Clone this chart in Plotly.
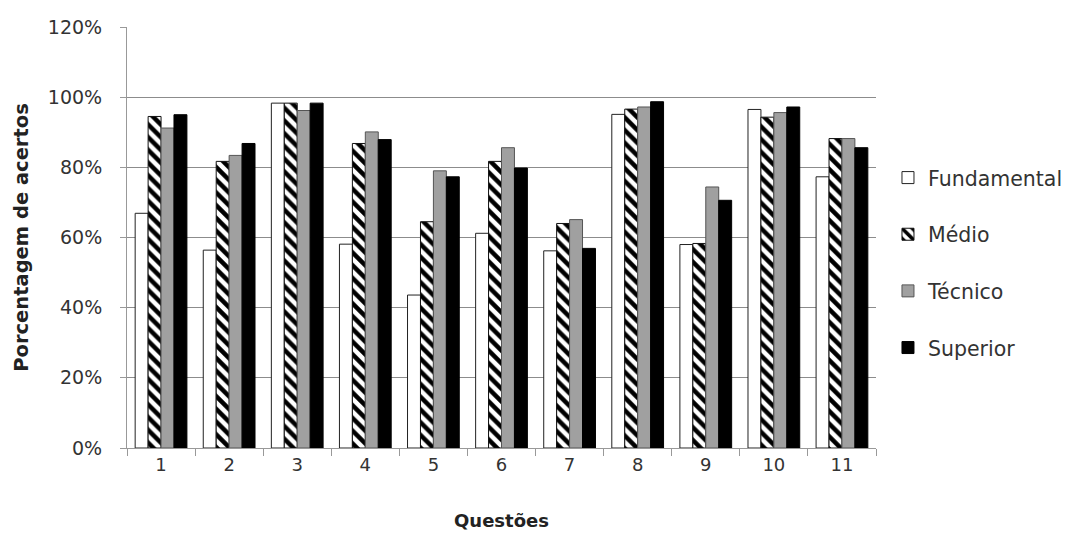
import plotly.graph_objects as go

questoes = ["1", "2", "3", "4", "5", "6", "7", "8", "9", "10", "11"]
fundamental = [0.669, 0.564, 0.983, 0.581, 0.436, 0.612, 0.562, 0.951, 0.580, 0.965, 0.773]
medio = [0.945, 0.817, 0.983, 0.868, 0.645, 0.817, 0.640, 0.966, 0.583, 0.943, 0.882]
tecnico = [0.912, 0.834, 0.962, 0.901, 0.790, 0.856, 0.651, 0.972, 0.744, 0.956, 0.882]
superior = [0.950, 0.868, 0.983, 0.879, 0.773, 0.798, 0.569, 0.987, 0.706, 0.972, 0.856]
y_ticks = [0, 0.2, 0.4, 0.6, 0.8, 1.0, 1.2]

FONT = "DejaVu Sans, sans-serif"

fig = go.Figure()
fig.add_trace(go.Bar(name="Fundamental", x=questoes, y=fundamental, legendgroup="a",
                     marker=dict(color="white", line=dict(color="#222222", width=1))))
fig.add_trace(go.Bar(name="Médio", x=questoes, y=medio, legendgroup="b",
                     marker=dict(color="white", line=dict(color="#111111", width=1),
                                 pattern=dict(shape="\\", fgcolor="black", bgcolor="white",
                                              size=9, solidity=0.5, fillmode="replace"))))
fig.add_trace(go.Bar(name="Técnico", x=questoes, y=tecnico, legendgroup="c",
                     marker=dict(color="#a0a0a0", line=dict(color="#555555", width=1))))
fig.add_trace(go.Bar(name="Superior", x=questoes, y=superior, legendgroup="d",
                     marker=dict(color="black", line=dict(color="black", width=1))))

fig.update_layout(
    width=1063, height=526,
    margin=dict(l=119, r=195, t=19, b=86, autoexpand=False),
    paper_bgcolor="white", plot_bgcolor="white",
    barmode="group", bargap=0.24, bargroupgap=0,
    font=dict(family=FONT, size=17, color="#333333"),
    legend=dict(x=1.016, y=0.44, xanchor="left", yanchor="middle",
                font=dict(family=FONT, size=20.5, color="#333333"),
                tracegroupgap=27, itemwidth=30, traceorder="grouped"),
    xaxis=dict(
        title=dict(text="<b>Questões</b>", font=dict(family=FONT, size=18, color="#222222"), standoff=40),
        showline=True, linecolor="#999999", linewidth=1,
        ticks="outside", tickson="boundaries", ticklen=7, tickcolor="#999999",
        showgrid=False, tickfont=dict(size=18), automargin=False,
    ),
    yaxis=dict(
        title=dict(text="<b>Porcentagem de acertos</b>", font=dict(family=FONT, size=19.5, color="#222222"), standoff=14),
        range=[0, 1.2], tickvals=y_ticks, tickformat=".0%",
        showline=True, linecolor="#999999", linewidth=1,
        ticks="outside", ticklen=6, tickcolor="#999999", ticklabelstandoff=14,
        showgrid=True, gridcolor="#8c8c8c", gridwidth=1,
        zeroline=False, tickfont=dict(size=19), automargin=False,
    ),
)

fig.write_html("out.html")
